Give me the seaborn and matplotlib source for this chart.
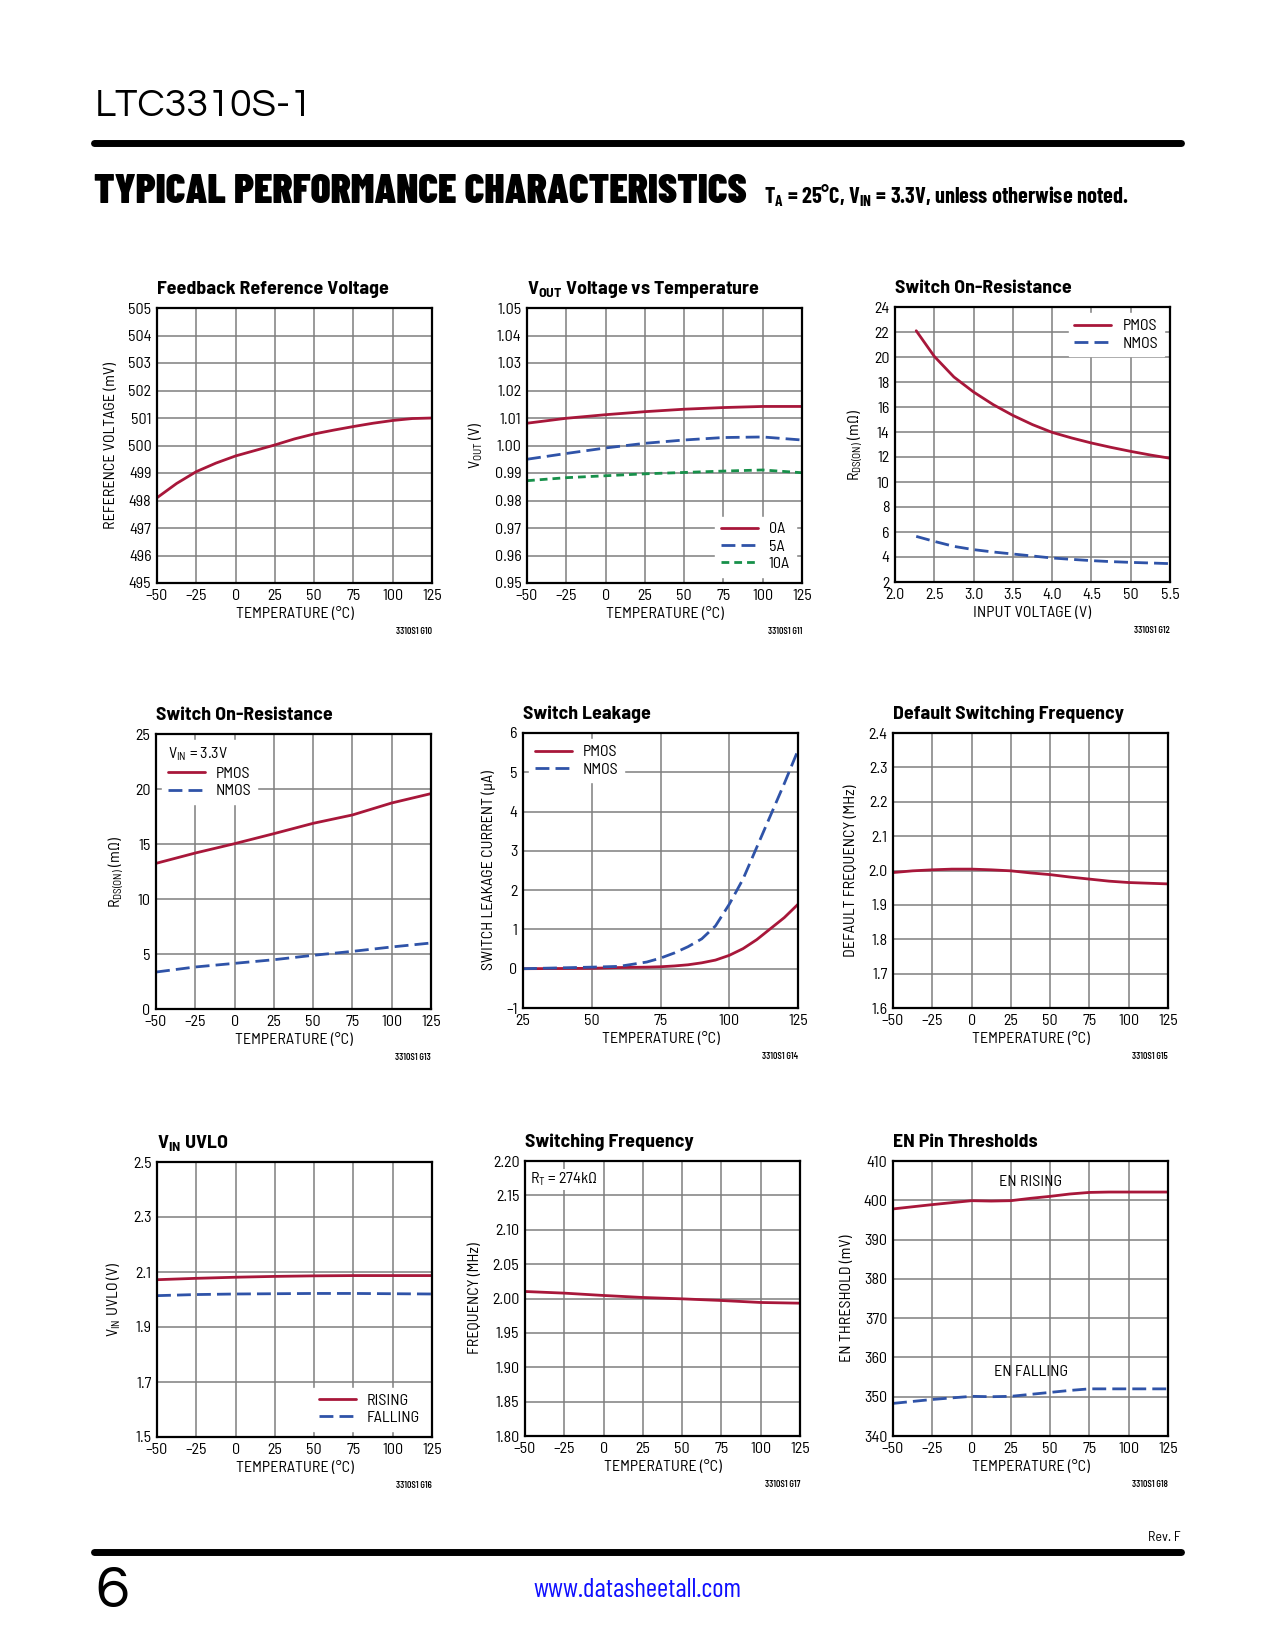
import matplotlib
matplotlib.use('Agg')
import matplotlib.pyplot as plt
import seaborn as sns

# ---- data ----
temp = [-50, -25, 0, 25, 50, 75, 100, 125]
temp_labels = ['–50', '–25', '0', '25', '50', '75', '100', '125']

# G10 feedback reference voltage
fb_temp = [-50, -37.5, -25, -12.5, 0, 12.5, 25, 37.5, 50, 62.5, 75, 87.5, 100, 112.5, 125]
fb_vref = [498.10, 498.62, 499.05, 499.36, 499.62, 499.82, 500.02, 500.24,
           500.42, 500.56, 500.69, 500.81, 500.91, 500.98, 501.0]
fb_yticks = [495, 496, 497, 498, 499, 500, 501, 502, 503, 504, 505]

# G11 VOUT vs temperature
vout_0a = [1.0081, 1.0099, 1.0112, 1.0123, 1.0132, 1.0138, 1.0142, 1.0142]
vout_5a = [0.9950, 0.9971, 0.9991, 1.0008, 1.0020, 1.0029, 1.0031, 1.0020]
vout_10a = [0.9872, 0.9883, 0.9890, 0.9897, 0.9902, 0.9907, 0.9911, 0.9901]
vout_yticks = [0.95, 0.96, 0.97, 0.98, 0.99, 1.00, 1.01, 1.02, 1.03, 1.04, 1.05]
vout_ylabels = ['0.95', '0.96', '0.97', '0.98', '0.99', '1.00', '1.01', '1.02', '1.03', '1.04', '1.05']

# G12 switch on-resistance vs input voltage
vin = [2.27, 2.5, 2.75, 3.0, 3.25, 3.5, 3.75, 4.0, 4.25, 4.5, 4.75, 5.0, 5.25, 5.5]
pmos_vin = [22.1, 20.05, 18.4, 17.2, 16.19, 15.33, 14.59, 13.97, 13.52, 13.12, 12.77, 12.45, 12.16, 11.9]
nmos_vin = [5.65, 5.25, 4.85, 4.59, 4.40, 4.24, 4.08, 3.92, 3.81, 3.71, 3.63, 3.57, 3.52, 3.47]
vin_xticks = [2.0, 2.5, 3.0, 3.5, 4.0, 4.5, 5.0, 5.5]
vin_xlabels = ['2.0', '2.5', '3.0', '3.5', '4.0', '4.5', '50', '5.5']
ron_yticks = [2, 4, 6, 8, 10, 12, 14, 16, 18, 20, 22, 24]

# G13 switch on-resistance vs temperature
pmos_t = [13.24, 14.18, 15.03, 15.94, 16.88, 17.64, 18.73, 19.58]
nmos_t = [3.36, 3.82, 4.15, 4.48, 4.88, 5.24, 5.64, 6.0]
ron_t_yticks = [0, 5, 10, 15, 20, 25]

# G14 switch leakage
leak_temp = [25, 50, 60, 70, 75, 80, 85, 90, 95, 100, 105, 110, 115, 120, 125]
pmos_leak = [0.0, 0.01, 0.03, 0.04, 0.05, 0.07, 0.10, 0.15, 0.22, 0.34, 0.51, 0.74, 1.02, 1.30, 1.64]
nmos_leak = [0.0, 0.04, 0.06, 0.17, 0.27, 0.40, 0.56, 0.76, 1.09, 1.64, 2.28, 3.09, 3.90, 4.71, 5.56]
leak_xticks = [25, 50, 75, 100, 125]
leak_yticks = [-1, 0, 1, 2, 3, 4, 5, 6]
leak_ylabels = ['–1', '0', '1', '2', '3', '4', '5', '6']

# G15 default switching frequency
dfreq_temp = [-50, -37.5, -25, -12.5, 0, 12.5, 25, 37.5, 50, 62.5, 75, 87.5, 100, 112.5, 125]
dfreq = [1.994, 1.999, 2.002, 2.004, 2.004, 2.002, 1.999, 1.993, 1.988, 1.981,
         1.975, 1.969, 1.965, 1.963, 1.961]
dfreq_yticks = [1.6, 1.7, 1.8, 1.9, 2.0, 2.1, 2.2, 2.3, 2.4]

# G16 VIN UVLO
uvlo_rise = [2.072, 2.077, 2.081, 2.084, 2.086, 2.087, 2.087, 2.087]
uvlo_fall = [2.014, 2.018, 2.020, 2.021, 2.022, 2.022, 2.021, 2.020]
uvlo_yticks = [1.5, 1.7, 1.9, 2.1, 2.3, 2.5]

# G17 switching frequency, RT = 274k
sfreq = [2.0102, 2.0078, 2.0044, 2.0015, 1.9995, 1.9971, 1.9942, 1.9932]
sfreq_yticks = [1.80, 1.85, 1.90, 1.95, 2.00, 2.05, 2.10, 2.15, 2.20]
sfreq_ylabels = ['1.80', '1.85', '1.90', '1.95', '2.00', '2.05', '2.10', '2.15', '2.20']

# G18 EN pin thresholds
en_temp = [-50, -25, 0, 12.5, 25, 37.5, 50, 62.5, 75, 87.5, 100, 125]
en_rise = [397.8, 398.9, 399.9, 399.8, 399.9, 400.5, 401.0, 401.6, 402.0, 402.1, 402.1, 402.1]
en_fall = [348.3, 349.3, 350.1, 350.0, 350.1, 350.6, 351.1, 351.6, 352.0, 352.0, 352.0, 352.0]
en_yticks = [340, 350, 360, 370, 380, 390, 400, 410]

# ---- style ----
sns.set_style('white')
plt.rcParams['font.family'] = ['Barlow Semi Condensed', 'Barlow Condensed', 'Liberation Sans', 'DejaVu Sans']
plt.rcParams['mathtext.default'] = 'regular'
plt.rcParams['text.color'] = 'black'
plt.rcParams['axes.labelcolor'] = 'black'

RED = '#A8173A'
BLUE = '#2F53A8'
GREEN = '#17904A'
DASH = (0, (5, 2.2))
SHORT = (0, (2.8, 1.8))
LW = 2.0
FS = 11.5

W, H = 1275, 1650
fig = plt.figure(figsize=(12.75, 16.5), dpi=100)


def make_ax(left, top, size=275):
    return fig.add_axes([left / W, 1 - (top + size) / H, size / W, size / H])


def style_ax(ax, xlim, xticks, xlabels, ylim, yticks, ylabels, xlabel, ylabel, title, code):
    ax.set_xlim(xlim)
    ax.set_ylim(ylim)
    ax.set_xticks(xticks, xlabels)
    ax.set_yticks(yticks, [str(t) for t in yticks] if ylabels is None else ylabels)
    ax.grid(True, color='#7f7f7f', lw=1.1)
    ax.set_axisbelow(True)
    for s in ax.spines.values():
        s.set_visible(True)
        s.set_color('black')
        s.set_linewidth(1.6)
    ax.tick_params(length=0, pad=4, labelsize=FS, colors='black')
    ax.set_xlabel(xlabel, fontsize=FS, labelpad=3)
    ax.set_ylabel(ylabel, fontsize=FS, labelpad=7)
    ax.set_title(title, loc='left', fontsize=14.3, fontweight='bold', pad=10)
    ax.annotate(code, xy=(1, 0), xycoords='axes fraction', xytext=(0, -35),
                textcoords='offset points', ha='right', va='center',
                fontsize=6.2, fontweight='semibold')


def add_legend(ax, loc, **kw):
    leg = ax.legend(loc=loc, fontsize=FS, frameon=True, fancybox=False,
                    facecolor='white', edgecolor='white', framealpha=1,
                    handlelength=2.3, handletextpad=0.7, labelspacing=0.2,
                    borderpad=0.35, borderaxespad=0.4, **kw)
    return leg


TEMP_X = 'TEMPERATURE (°C)'

# row 1
ax = make_ax(157, 308)
sns.lineplot(x=fb_temp, y=fb_vref, ax=ax, color=RED, lw=LW, errorbar=None)
style_ax(ax, (-50, 125), temp, temp_labels, (495, 505), fb_yticks, None,
         TEMP_X, 'REFERENCE VOLTAGE (mV)', 'Feedback Reference Voltage', '3310S1 G10')

ax = make_ax(527, 308)
sns.lineplot(x=temp, y=vout_0a, ax=ax, color=RED, lw=LW, errorbar=None, label='0A')
sns.lineplot(x=temp, y=vout_5a, ax=ax, color=BLUE, lw=LW, ls=DASH, errorbar=None, label='5A')
sns.lineplot(x=temp, y=vout_10a, ax=ax, color=GREEN, lw=LW, ls=SHORT, errorbar=None, label='10A')
style_ax(ax, (-50, 125), temp, temp_labels, (0.95, 1.05), vout_yticks, vout_ylabels,
         TEMP_X, r'V$_{OUT}$ (V)', r'V$_{OUT}$ Voltage vs Temperature', '3310S1 G11')
add_legend(ax, 'lower right')

ax = make_ax(895, 307)
sns.lineplot(x=vin, y=pmos_vin, ax=ax, color=RED, lw=LW, errorbar=None, label='PMOS')
sns.lineplot(x=vin, y=nmos_vin, ax=ax, color=BLUE, lw=LW, ls=DASH, errorbar=None, label='NMOS')
style_ax(ax, (2.0, 5.5), vin_xticks, vin_xlabels, (2, 24), ron_yticks, None,
         'INPUT VOLTAGE (V)', r'R$_{DS(ON)}$ (mΩ)', 'Switch On-Resistance', '3310S1 G12')
add_legend(ax, 'upper right')

# row 2
ax = make_ax(156, 734)
sns.lineplot(x=temp, y=pmos_t, ax=ax, color=RED, lw=LW, errorbar=None, label='PMOS')
sns.lineplot(x=temp, y=nmos_t, ax=ax, color=BLUE, lw=LW, ls=DASH, errorbar=None, label='NMOS')
style_ax(ax, (-50, 125), temp, temp_labels, (0, 25), ron_t_yticks, None,
         TEMP_X, r'R$_{DS(ON)}$ (mΩ)', 'Switch On-Resistance', '3310S1 G13')
add_legend(ax, 'upper left', title=r'V$_{IN}$ = 3.3V', title_fontsize=FS, alignment='left')

ax = make_ax(523, 733)
sns.lineplot(x=leak_temp, y=pmos_leak, ax=ax, color=RED, lw=LW, errorbar=None, label='PMOS')
sns.lineplot(x=leak_temp, y=nmos_leak, ax=ax, color=BLUE, lw=LW, ls=DASH, errorbar=None, label='NMOS')
style_ax(ax, (25, 125), leak_xticks, [str(t) for t in leak_xticks], (-1, 6), leak_yticks, leak_ylabels,
         TEMP_X, 'SWITCH LEAKAGE CURRENT (µA)', 'Switch Leakage', '3310S1 G14')
add_legend(ax, 'upper left')

ax = make_ax(893, 733)
sns.lineplot(x=dfreq_temp, y=dfreq, ax=ax, color=RED, lw=LW, errorbar=None)
style_ax(ax, (-50, 125), temp, temp_labels, (1.6, 2.4), dfreq_yticks, None,
         TEMP_X, 'DEFAULT FREQUENCY (MHz)', 'Default Switching Frequency', '3310S1 G15')

# row 3
ax = make_ax(157, 1162)
sns.lineplot(x=temp, y=uvlo_rise, ax=ax, color=RED, lw=LW, errorbar=None, label='RISING')
sns.lineplot(x=temp, y=uvlo_fall, ax=ax, color=BLUE, lw=LW, ls=DASH, errorbar=None, label='FALLING')
style_ax(ax, (-50, 125), temp, temp_labels, (1.5, 2.5), uvlo_yticks, None,
         TEMP_X, r'V$_{IN}$ UVLO (V)', r'V$_{IN}$ UVLO', '3310S1 G16')
add_legend(ax, 'lower right')

ax = make_ax(525, 1161)
sns.lineplot(x=temp, y=sfreq, ax=ax, color=RED, lw=LW, errorbar=None)
style_ax(ax, (-50, 125), temp, temp_labels, (1.80, 2.20), sfreq_yticks, sfreq_ylabels,
         TEMP_X, 'FREQUENCY (MHz)', 'Switching Frequency', '3310S1 G17')
ax.text(0.02, 0.965, r'R$_{T}$ = 274kΩ', transform=ax.transAxes, ha='left', va='top',
        fontsize=FS, bbox=dict(facecolor='white', edgecolor='none', pad=1.5))

ax = make_ax(893, 1161)
sns.lineplot(x=en_temp, y=en_rise, ax=ax, color=RED, lw=LW, errorbar=None)
sns.lineplot(x=en_temp, y=en_fall, ax=ax, color=BLUE, lw=LW, ls=DASH, errorbar=None)
style_ax(ax, (-50, 125), temp, temp_labels, (340, 410), en_yticks, None,
         TEMP_X, 'EN THRESHOLD (mV)', 'EN Pin Thresholds', '3310S1 G18')
ax.text(37.5, 404.6, 'EN RISING', ha='center', va='center', fontsize=FS)
ax.text(37.5, 356.2, 'EN FALLING', ha='center', va='center', fontsize=FS)

# ---- page decoration ----
thin = ['Questrial', 'Didact Gothic', 'Lato', 'DejaVu Sans']
cond = ['Barlow Condensed', 'Liberation Sans', 'DejaVu Sans']
fig.text(95 / W, 1 - 116 / H, 'LTC3310S-1', fontsize=28.5, family=thin,
         va='baseline', ha='left')
fig.add_artist(plt.Line2D([94 / W, 1181 / W], [1 - 143 / H] * 2, color='black', lw=5))
fig.text(94 / W, 1 - 203 / H, 'TYPICAL PERFORMANCE CHARACTERISTICS', fontsize=29.8,
         family=cond, fontweight='black', va='baseline', ha='left')
fig.text(764 / W, 1 - 203 / H, r'T$_{A}$ = 25°C, V$_{IN}$ = 3.3V, unless otherwise noted.',
         fontsize=16, family=cond, fontweight='bold', va='baseline', ha='left')
fig.text(1181 / W, 1 - 1541 / H, 'Rev. F', fontsize=10, va='baseline', ha='right')
fig.add_artist(plt.Line2D([94 / W, 1181 / W], [1 - 1552 / H] * 2, color='black', lw=5))
fig.text(95 / W, 1 - 1607 / H, '6', fontsize=44, family=thin,
         va='baseline', ha='left')
fig.text(637 / W, 1 - 1590 / H, 'www.datasheetall.com', fontsize=19.5, family=cond,
         color='#1010FF', va='center', ha='center')

fig.savefig('out.png', dpi=100)
